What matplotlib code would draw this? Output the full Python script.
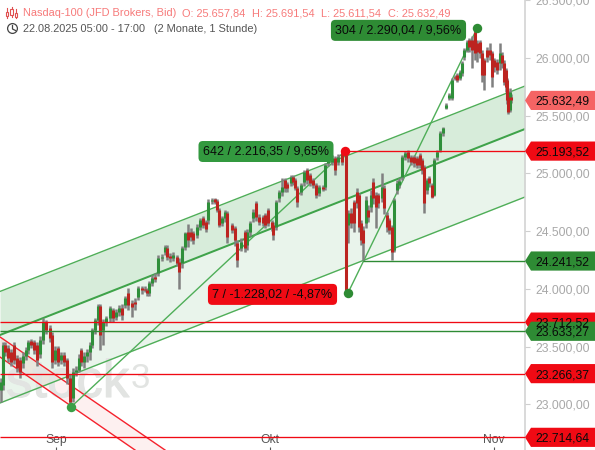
import matplotlib
matplotlib.use("Agg")
import matplotlib.pyplot as plt
import matplotlib.patheffects as pe
from matplotlib.patches import Polygon, Circle
from matplotlib.transforms import Affine2D

plt.rcParams['font.family'] = ['Liberation Sans', 'DejaVu Sans']

# ---------- data ----------
pos = [1,3,5,8,11,14,17,20,23,26,
       28,31,34,37,40,43,46,50,52,55,
       58,61,64,67,70,73,76,79,81,84,
       87,90,92,95,98,100,103,106,110,113,
       116,119,122,125,128,132,135,138,142,145,
       147,149,152,155,158,162,165,167,170,173,
       177,179,182,185,188,191,193,197,200,203,
       206,208,212,215,217,219,222,225,227,232,
       235,237,241,245,247,250,253,256,259,263,
       265,268,272,273,276,279,282,285,287,291,
       293,295,297,301,304,307,310,313,316,319,
       323,325,328,332,335,338,342,346,348,351,
       354,357,359,361,363,366,368,371,373,376,
       378,382,384,387,389,392,394,397,399,402,
       405,408,411,414,417,420,422,424,427,429,
       432,434,437,440,443,446,449,452,455,457,
       460,462,464,467,469,472,475,477,480,482,
       484,487,490,492,494,497,500,502,504,506,
       507,508,510,511]
opens = [23125,23168,23515,23489,23454,23515,23402,23384,23358,23419,
         23471,23549,23541,23515,23436,23558,23714,23662,23601,23384,
         23489,23384,23428,23384,23229,23055,23281,23298,23471,23367,
         23419,23454,23515,23644,23731,23852,23644,23714,23748,23817,
         23757,23800,23835,23861,23965,23878,23887,23930,24008,24000,
         23991,23965,24051,24103,24138,24268,24320,24354,24285,24268,
         24276,24233,24224,24363,24493,24493,24484,24467,24536,24614,
         24579,24597,24762,24779,24762,24683,24571,24614,24657,24553,
         24527,24398,24354,24493,24380,24493,24614,24744,24623,24623,
         24640,24683,24579,24553,24536,24787,24839,24943,24909,24917,
         24969,24943,24874,24839,24926,25030,24986,24943,24900,24831,
         24883,24883,25090,25099,25134,25099,25177,25160,24553,24657,
         24753,24839,24813,24571,24510,24571,24683,24709,24926,24813,
         24813,24787,24874,24640,24597,24536,24337,24857,24900,24969,
         25142,25186,25142,25142,25134,25160,25116,25056,24857,24960,
         24900,24813,25142,25203,25350,25567,25653,25653,25835,25853,
         25827,25870,26008,26069,26156,26156,26225,26130,26138,26043,
         25982,26069,26069,26043,25982,25965,25956,26026,25956,25896,
         25809,25662,25549,25657.84]
closes = [23194,23515,23454,23402,23367,23384,23315,23281,23419,23471,
          23541,23515,23471,23384,23558,23714,23644,23575,23367,23471,
          23367,23428,23367,23229,23021,23281,23298,23402,23367,23419,
          23454,23515,23644,23731,23852,23601,23714,23748,23835,23748,
          23800,23835,23774,23921,23861,23843,23869,24008,23991,23991,
          23965,24051,24095,24086,24268,24276,24363,24276,24268,24294,
          24224,24146,24354,24484,24424,24450,24424,24536,24597,24553,
          24519,24753,24770,24753,24683,24553,24614,24666,24450,24510,
          24424,24250,24406,24354,24493,24571,24666,24623,24579,24571,
          24553,24571,24527,24467,24753,24839,24883,24874,24874,24969,
          24926,24874,24753,24900,25012,24943,24917,24900,24813,24883,
          24865,25073,25116,25134,25030,25142,25099,23991,24657,24571,
          24571,24744,24536,24424,24398,24770,24623,24813,24787,24709,
          24744,24883,24701,24536,24510,24320,24770,24917,24935,25142,
          25177,25134,25099,25090,25073,25073,25030,24744,24943,24917,
          24796,25116,25186,25350,25393,25593,25679,25809,25827,25809,
          25879,25956,26069,26138,26095,26069,26043,26052,26043,25853,
          25853,26008,26026,25835,25922,25896,26043,25956,25792,25749,
          25636,25532,25705,25632.49]
highs = [23229,23541,23541,23515,23480,23541,23428,23410,23454,23497,
         23558,23566,23558,23541,23592,23748,23731,23688,23627,23506,
         23506,23454,23454,23402,23255,23315,23332,23436,23489,23454,
         23480,23541,23662,23748,23869,23869,23740,23766,23852,23835,
         23826,23861,23869,23939,24008,23904,23921,24025,24025,24025,
         24008,24069,24120,24138,24294,24302,24380,24380,24311,24320,
         24294,24268,24372,24493,24562,24527,24502,24562,24614,24631,
         24597,24779,24787,24787,24779,24701,24631,24683,24675,24571,
         24545,24424,24441,24510,24519,24588,24692,24761,24648,24640,
         24657,24701,24597,24579,24770,24857,24960,24960,24926,24986,
         24986,24960,24891,24917,25030,25047,25004,24960,24917,24900,
         24900,25090,25134,25160,25151,25168,25194,25186,24683,24701,
         24770,24874,24831,24597,24545,24805,24727,24857,24960,24839,
         24831,25004,24900,24666,24614,24553,24787,24943,24960,25160,
         25194,25203,25160,25160,25151,25177,25134,25073,24960,24978,
         24917,25134,25203,25368,25402,25610,25697,25827,25853,25870,
         25896,25974,26086,26156,26173,26190,26242,26156,26156,26069,
         26000,26095,26130,26060,26000,25991,26130,26052,25982,25913,
         25826,25679,25740,25691.54]
lows = [23021,23125,23419,23367,23332,23350,23281,23229,23315,23384,
        23436,23489,23436,23332,23402,23523,23610,23541,23315,23350,
        23332,23350,23332,23176,22986,23021,23246,23281,23332,23315,
        23367,23384,23489,23610,23687,23471,23515,23679,23714,23714,
        23731,23766,23731,23835,23817,23757,23817,23904,23956,23973,
        23939,23939,24025,24060,24112,24242,24294,24250,24233,24242,
        24198,24000,24181,24337,24363,24415,24389,24441,24510,24527,
        24493,24562,24735,24735,24666,24536,24545,24579,24398,24484,
        24372,24190,24328,24320,24337,24458,24579,24588,24553,24545,
        24527,24545,24502,24424,24510,24753,24805,24839,24839,24891,
        24900,24857,24710,24813,24891,24909,24891,24874,24787,24805,
        24848,24857,25064,25073,24986,25073,25073,23965,24398,24527,
        24493,24701,24493,24380,24250,24527,24579,24666,24735,24527,
        24701,24753,24649,24493,24476,24250,24320,24822,24874,24943,
        25116,25099,25073,25056,25047,25047,24995,24658,24822,24883,
        24787,24805,25116,25186,25324,25558,25636,25636,25809,25792,
        25809,25844,25982,26052,26052,25913,25982,25965,26000,25792,
        25723,25965,25982,25749,25879,25861,25896,25913,25766,25705,
        25601,25515,25532,25611.54]

month_pos = [56, 269.5, 494.3]
month_labels = ['Sep', 'Okt', 'Nov']
y_ticks = [23000, 23500, 24000, 24500, 25000, 25500, 26000, 26500]

channel_x = [0, 525]
channel_upper = [23978, 25757]
channel_mid = [23601, 25385]
channel_lower = [23012, 24796]

red_top_x = [0, 165]
red_top = [23584, 22605]
red_low_x = [0, 135]
red_low = [23410, 22605]

swing_pos = [71, 345, 348, 477]
swing_val = [22977.17, 25193.52, 23965.50, 26255.54]

level_full_red = [23712.52, 23266.37, 22714.64]
level_full_green = [23633.27]
level_res = 25193.52
level_sup = 24241.52
last_price = 25632.49

# ---------- colours ----------
C_RED = '#f00a14'
C_GREEN = '#2e8b34'
C_SALMON = '#f56464'
C_LINE = '#4fae58'

W, H = 595, 450
fig = plt.figure(figsize=(W/100, H/100), dpi=100, facecolor='white')
ax = fig.add_axes([0, 0, 525/W, 1])
ax.set_xlim(0, 525)
ax.set_ylim(22605, 26502)
ax.set_facecolor('none')
for s in ['top', 'left', 'bottom']:
    ax.spines[s].set_visible(False)
ax.spines['right'].set_color('#cfcfcf')
ax.spines['right'].set_linewidth(1.1)

ax.yaxis.tick_right()
ax.set_yticks(y_ticks)
ax.set_yticklabels([f"{v:,.2f}".replace(',', 'X').replace('.', ',').replace('X', '.') for v in y_ticks])
ax.tick_params(axis='y', length=3.6, width=0.8, color='#cfcfcf', labelcolor='#a8a8a8',
               labelsize=8.75, pad=4.0)
ax.set_xticks(month_pos)
ax.set_xticklabels(month_labels)
ax.tick_params(axis='x', direction='in', length=2.5, width=0.8, color='#555555',
               labelcolor='#555555', labelsize=8.75, pad=-11.5)

px = Affine2D().scale(1, -1).translate(0, H)

# channels
ax.fill_between(channel_x, channel_mid, channel_upper, color='#2e9a3c', alpha=0.19, lw=0, zorder=1)
ax.fill_between(channel_x, channel_lower, channel_mid, color='#2e9a3c', alpha=0.10, lw=0, zorder=1)
ax.fill(red_top_x + red_low_x[::-1], red_top + red_low[::-1], color='#f03030', alpha=0.07, lw=0, zorder=1)

# watermark
wm = [pe.withStroke(linewidth=0.8, foreground='#e2e4e2')]
ax.text(6, 397, 'stock', transform=px, fontsize=38, color='#e2e4e2', zorder=1.5,
        va='baseline', ha='left', clip_on=False, path_effects=wm)
ax.text(131, 388, '3', transform=px, fontsize=25, color='#e2e4e2', zorder=1.5,
        va='baseline', ha='left', clip_on=False)

ax.plot(channel_x, channel_upper, color=C_LINE, lw=1.0, zorder=2)
ax.plot(channel_x, channel_mid, color='#3fa34a', lw=1.45, zorder=2)
ax.plot(channel_x, channel_lower, color=C_LINE, lw=1.0, zorder=2)
ax.plot(red_top_x, red_top, color='#f5222d', lw=1.0, zorder=2)
ax.plot(red_low_x, red_low, color='#f5222d', lw=1.0, zorder=2)

# swing lines
ax.plot(swing_pos[:2], swing_val[:2], color=C_LINE, lw=1.0, zorder=2)
ax.plot(swing_pos[2:], swing_val[2:], color=C_LINE, lw=1.0, zorder=2)

# candles
ax.vlines(pos, lows, highs, color='#808080', lw=1.8, zorder=3)
up_x = [p for p, o, c in zip(pos, opens, closes) if c >= o]
up_o = [o for o, c in zip(opens, closes) if c >= o]
up_c = [c for o, c in zip(opens, closes) if c >= o]
dn_x = [p for p, o, c in zip(pos, opens, closes) if c < o]
dn_o = [o for o, c in zip(opens, closes) if c < o]
dn_c = [c for o, c in zip(opens, closes) if c < o]
ax.vlines(up_x, up_o, up_c, color='#2f8f3a', lw=2.2, zorder=3.2)
ax.vlines(dn_x, dn_o, dn_c, color='#bc2420', lw=2.2, zorder=3.2)

# levels
ax.hlines(level_full_red, 0, 525, color=C_RED, lw=0.95, zorder=4)
ax.hlines(level_full_green, 0, 525, color=C_GREEN, lw=1.0, zorder=4)
ax.hlines(level_res, swing_pos[1], 525, color=C_RED, lw=0.95, zorder=4)
ax.hlines(level_sup, 363, 525, color=C_GREEN, lw=1.0, zorder=4)

# swing dots
dot_colors = ['#3a9f46', '#f00a14', C_GREEN, C_GREEN]
for x, v, c in zip(swing_pos, swing_val, dot_colors):
    ax.plot([x], [v], 'o', ms=6.8, color=c, mew=0, zorder=5)

# swing labels
def swing_label(cx, v, txt, fc):
    ax.text(cx, v, txt, fontsize=9, color='#0a0a0a', ha='center', va='center_baseline', zorder=6,
            bbox=dict(boxstyle='round,pad=0.36,rounding_size=0.35', fc=fc, ec='none'))

swing_label(266, 25203, '642 / 2.216,35 / 9,65%', '#33993f')
swing_label(272.5, 23965.5, '7 / -1.228,02 / -4,87%', C_RED)
swing_label(398.5, 26252, '304 / 2.290,04 / 9,56%', C_GREEN)

# price tags
tf = ax.get_yaxis_transform()
def tag(v, fc):
    h = 83
    ax.add_patch(Polygon([(1.0, v), (1 + 6/525, v + h), (1 + 70/525, v + h),
                          (1 + 70/525, v - h), (1 + 6/525, v - h)],
                         closed=True, transform=tf, fc=fc, ec='none', clip_on=False, zorder=7))
    s = f"{v:,.2f}".replace(',', 'X').replace('.', ',').replace('X', '.')
    ax.text(1 + 10/525, v, s, transform=tf, fontsize=8.75, color='#0a0a0a', ha='left',
            va='center_baseline', clip_on=False, zorder=8)

tag(25632.49, C_SALMON)
tag(25193.52, C_RED)
tag(24241.52, C_GREEN)
tag(23712.52, C_RED)
tag(23633.27, C_GREEN)
tag(23266.37, C_RED)
tag(22714.64, C_RED)

# header
hdr = [(23, 'Nasdaq-100 (JFD Brokers, Bid)'), (182, 'O: 25.657,84'), (252, 'H: 25.691,54'),
       (321, 'L: 25.611,54'), (388, 'C: 25.632,49')]
for x, s in hdr:
    ax.text(x, 12.5, s, transform=px, fontsize=7.95, color='#f77a7a', ha='left', va='center_baseline', clip_on=False)
ax.text(23, 28.5, '22.08.2025 05:00 - 17:00', transform=px, fontsize=7.95, color='#555555',
        ha='left', va='center_baseline', clip_on=False)
ax.text(154, 28.5, '(2 Monate, 1 Stunde)', transform=px, fontsize=7.95, color='#555555',
        ha='left', va='center_baseline', clip_on=False)

# icons
for x, y0, y1, b0, b1 in [(7, 8, 18, 12, 16), (11.5, 7, 17, 9, 15), (16, 9, 18, 13, 17)]:
    ax.plot([x, x], [y0, y1], transform=px, color='#e05050', lw=0.8, clip_on=False, zorder=6)
    ax.add_patch(plt.Rectangle((x - 1.2, b0), 2.4, b1 - b0, transform=px, fc='white', ec='#e05050',
                               lw=0.8, clip_on=False, zorder=6.1))
ax.add_patch(Circle((12.5, 28.5), 4.9, transform=px, fc='none', ec='#444444', lw=0.9, clip_on=False))
ax.plot([12.5, 12.5, 15.5], [25.5, 29, 30.5], transform=px, color='#444444', lw=0.9, clip_on=False)

fig.savefig('out.png', dpi=100)
